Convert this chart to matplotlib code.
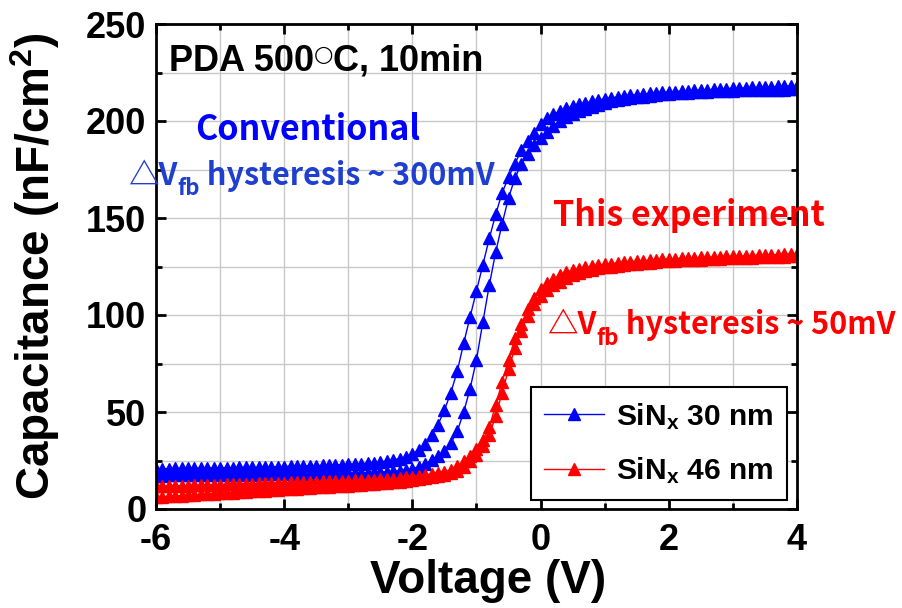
import numpy as np
import matplotlib
matplotlib.use("Agg")
import matplotlib.pyplot as plt

plt.rcParams['font.family'] = ['Liberation Sans', 'DejaVu Sans']
plt.rcParams['font.weight'] = 'bold'
plt.rcParams['axes.unicode_minus'] = False
plt.rcParams['mathtext.fontset'] = 'custom'
plt.rcParams['mathtext.rm'] = 'Liberation Sans:bold'
plt.rcParams['mathtext.it'] = 'Liberation Sans:bold'
plt.rcParams['mathtext.bf'] = 'Liberation Sans:bold'

# gate voltage sweep (V)
voltage = [
    -6.0, -5.9, -5.8, -5.7, -5.6, -5.5, -5.4, -5.3, -5.2, -5.1,
    -5.0, -4.9, -4.8, -4.7, -4.6, -4.5, -4.4, -4.3, -4.2, -4.1,
    -4.0, -3.9, -3.8, -3.7, -3.6, -3.5, -3.4, -3.3, -3.2, -3.1,
    -3.0, -2.9, -2.8, -2.7, -2.6, -2.5, -2.4, -2.3, -2.2, -2.1,
    -2.0, -1.9, -1.8, -1.7, -1.6, -1.5, -1.4, -1.3, -1.2, -1.1,
    -1.0, -0.9, -0.8, -0.7, -0.6, -0.5, -0.4, -0.3, -0.2, -0.1,
    0.0, 0.1, 0.2, 0.3, 0.4, 0.5, 0.6, 0.7, 0.8, 0.9,
    1.0, 1.1, 1.2, 1.3, 1.4, 1.5, 1.6, 1.7, 1.8, 1.9,
    2.0, 2.1, 2.2, 2.3, 2.4, 2.5, 2.6, 2.7, 2.8, 2.9,
    3.0, 3.1, 3.2, 3.3, 3.4, 3.5, 3.6, 3.7, 3.8, 3.9,
    4.0]

# SiNx 30 nm, two sweep directions (nF/cm2)
sin30_sweep1 = [
    20.7, 20.8, 20.8, 20.9, 20.9, 21.0, 21.0, 21.1, 21.1, 21.2,
    21.2, 21.3, 21.3, 21.4, 21.5, 21.5, 21.6, 21.7, 21.7, 21.8,
    21.9, 22.0, 22.1, 22.2, 22.3, 22.4, 22.5, 22.6, 22.7, 22.9,
    23.0, 23.2, 23.4, 23.6, 23.9, 24.3, 24.7, 25.3, 26.0, 27.0,
    28.5, 30.5, 33.5, 38.0, 43.5, 51.0, 60.0, 71.0, 85.5, 99.0,
    112.5, 126.0, 139.5, 152.0, 163.0, 171.0, 178.0, 185.0, 189.5, 194.0,
    198.5, 201.5, 203.5, 205.0, 206.5, 207.7, 208.6, 209.4, 210.1, 210.8,
    211.4, 211.9, 212.4, 212.8, 213.2, 213.6, 213.9, 214.2, 214.5, 214.8,
    215.0, 215.2, 215.4, 215.6, 215.8, 216.0, 216.1, 216.3, 216.5, 216.7,
    216.9, 217.0, 217.1, 217.3, 217.4, 217.5, 217.6, 217.8, 217.9, 218.0,
    218.2]
sin30_sweep2 = [
    17.2, 17.2, 17.3, 17.3, 17.3, 17.4, 17.4, 17.4, 17.5, 17.5,
    17.5, 17.6, 17.6, 17.6, 17.7, 17.7, 17.8, 17.8, 17.8, 17.9,
    17.9, 18.0, 18.0, 18.1, 18.1, 18.2, 18.2, 18.3, 18.4, 18.4,
    18.5, 18.6, 18.7, 18.8, 18.9, 19.0, 19.2, 19.4, 19.7, 20.2,
    20.8, 21.8, 23.2, 25.2, 27.5, 30.0, 34.0, 40.0, 50.0, 62.0,
    77.0, 96.5, 115.5, 132.5, 147.0, 160.5, 170.5, 178.0, 183.0, 187.5,
    191.0, 194.5, 197.5, 200.0, 202.0, 203.6, 205.0, 206.2, 207.3, 208.4,
    209.4, 210.1, 210.8, 211.3, 211.8, 212.2, 212.6, 213.0, 213.4, 213.7,
    214.0, 214.2, 214.4, 214.6, 214.8, 215.0, 215.2, 215.3, 215.5, 215.6,
    215.7, 215.8, 215.8, 215.9, 216.0, 216.0, 216.1, 216.2, 216.2, 216.3,
    216.3]

# SiNx 46 nm, two sweep directions (nF/cm2)
sin46_sweep1 = [
    11.6, 11.7, 11.8, 11.9, 12.0, 12.1, 12.2, 12.3, 12.4, 12.5,
    12.6, 12.7, 12.8, 12.9, 13.0, 13.1, 13.2, 13.3, 13.4, 13.5,
    13.6, 13.7, 13.8, 13.9, 14.0, 14.1, 14.2, 14.3, 14.4, 14.5,
    14.6, 14.7, 14.8, 15.0, 15.1, 15.3, 15.5, 15.7, 16.0, 16.3,
    16.7, 17.1, 17.6, 18.1, 18.7, 19.3, 20.0, 22.0, 24.5, 27.5,
    31.0, 35.6, 42.4, 53.5, 65.5, 77.0, 88.0, 95.5, 103.0, 109.0,
    113.5, 116.5, 118.8, 120.5, 122.0, 123.0, 123.9, 124.6, 125.2, 125.7,
    126.1, 126.5, 126.9, 127.2, 127.5, 127.8, 128.0, 128.3, 128.5, 128.7,
    128.9, 129.1, 129.2, 129.4, 129.5, 129.7, 129.8, 129.9, 130.1, 130.2,
    130.3, 130.4, 130.5, 130.6, 130.8, 130.9, 131.0, 131.1, 131.3, 131.4,
    131.5]
sin46_sweep2 = [
    6.1, 6.3, 6.5, 6.7, 6.9, 7.1, 7.3, 7.5, 7.7, 7.9,
    8.1, 8.3, 8.5, 8.7, 8.9, 9.1, 9.3, 9.5, 9.7, 9.9,
    10.1, 10.3, 10.5, 10.7, 10.9, 11.1, 11.3, 11.5, 11.7, 11.9,
    12.1, 12.3, 12.5, 12.7, 12.9, 13.2, 13.5, 13.8, 14.1, 14.5,
    14.9, 15.3, 15.8, 16.4, 17.0, 17.7, 18.5, 19.8, 21.8, 24.5,
    28.0, 32.5, 38.0, 48.0, 60.0, 72.0, 83.0, 92.0, 99.5, 105.5,
    110.0, 113.0, 115.3, 117.0, 119.0, 120.6, 121.8, 122.7, 123.4, 124.0,
    124.5, 124.9, 125.4, 125.7, 126.1, 126.4, 126.7, 127.0, 127.3, 127.6,
    127.8, 128.0, 128.2, 128.3, 128.5, 128.6, 128.8, 128.9, 129.1, 129.2,
    129.3, 129.4, 129.5, 129.6, 129.7, 129.8, 129.9, 130.0, 130.1, 130.2,
    130.3]

labels = ['SiN$_\\mathregular{x}$ 30 nm', 'SiN$_\\mathregular{x}$ 46 nm']


def chain(ax, x, y, parts):
    # write text pieces one after another, each piece: (text, kwargs, dy in points)
    prev = None
    for txt, kw, dy in parts:
        if prev is None:
            prev = ax.text(x, y, txt, va='baseline', **kw)
        else:
            prev = ax.annotate(txt, xy=(1, 0), xycoords=prev, xytext=(0, dy),
                               textcoords='offset points', va='bottom', **kw)
    return prev


fig = plt.figure(figsize=(9.03, 6.08), dpi=100)
ax = fig.add_axes([156 / 903, 99 / 608, 641 / 903, 485 / 608])

ms = 8.5
ax.plot(voltage, sin30_sweep1, '-^', color='blue', lw=1, ms=ms, label=labels[0])
ax.plot(voltage, sin30_sweep2, '-^', color='blue', lw=1, ms=ms)
ax.plot(voltage, sin46_sweep1, '-^', color='red', lw=1, ms=ms, label=labels[1])
ax.plot(voltage, sin46_sweep2, '-^', color='red', lw=1, ms=ms)

ax.set_xlim(-6, 4)
ax.set_ylim(0, 250)
ax.set_xticks([-6, -4, -2, 0, 2, 4])
ax.set_xticks([-5, -3, -1, 1, 3], minor=True)
ax.set_yticks([0, 50, 100, 150, 200, 250])
ax.set_yticks([25, 75, 125, 175, 225], minor=True)
ax.grid(True, which='both', color='#c8c8c8', lw=1)
ax.set_axisbelow(True)
ax.tick_params(which='both', direction='in', top=True, right=True, width=2, labelsize=26)
ax.tick_params(which='major', length=7, pad=7)
ax.tick_params(axis='x', which='major', pad=10)
ax.tick_params(which='minor', length=4)
for s in ax.spines.values():
    s.set_linewidth(2)

ax.set_xlabel('Voltage (V)', fontsize=33, fontweight='bold')
ax.xaxis.set_label_coords(0.518, -0.103)
ax.set_ylabel('Capacitance (nF/cm$^\\mathregular{2}$)', fontsize=33, fontweight='bold', labelpad=17)

leg = ax.legend(loc='lower right', bbox_to_anchor=(0.984, 0.019), borderaxespad=0,
                fontsize=21.5, fancybox=False, framealpha=1, edgecolor='black',
                handlelength=2.0, handletextpad=0.4, labelspacing=0.8, borderpad=0.45)
leg.get_frame().set_linewidth(1.5)

# annotations
lb = dict(fontsize=26, fontweight='bold', color='black')
chain(ax, -5.8, 226, [
    ('PDA 500', lb, 0),
    ('\u25cb', dict(fontsize=16, color='black', family='DejaVu Sans', fontweight='normal'), 10),
    ('C, 10min', lb, -10),
])

kr = ['Noto Sans CJK KR', 'DejaVu Sans']
ax.text(-5.39, 190, 'Conventional', fontsize=24.5, fontweight='bold', color='#0000ff', family=kr, va='baseline')
ax.text(0.19, 146, 'This experiment', fontsize=24.5, fontweight='bold', color='#ff0000', family=kr,
        va='baseline', ha='left')

bt = dict(fontsize=22, fontweight='bold', color='#1f3fd0', family=kr)
bs = dict(fontsize=16, fontweight='bold', color='#1f3fd0', family=kr)
chain(ax, -6.43, 167, [
    ('\u25b3V', bt, 0),
    ('fb', bs, -6),
    (' hysteresis ~ 300mV', bt, 6),
])
rt = dict(fontsize=22, fontweight='bold', color='#ff0000', family=kr)
rs = dict(fontsize=16, fontweight='bold', color='#ff0000', family=kr)
chain(ax, 0.1, 90, [
    ('\u25b3V', rt, 0),
    ('fb', rs, -6),
    (' hysteresis ~ 50mV', rt, 6),
])

fig.savefig('out.png', dpi=100)
